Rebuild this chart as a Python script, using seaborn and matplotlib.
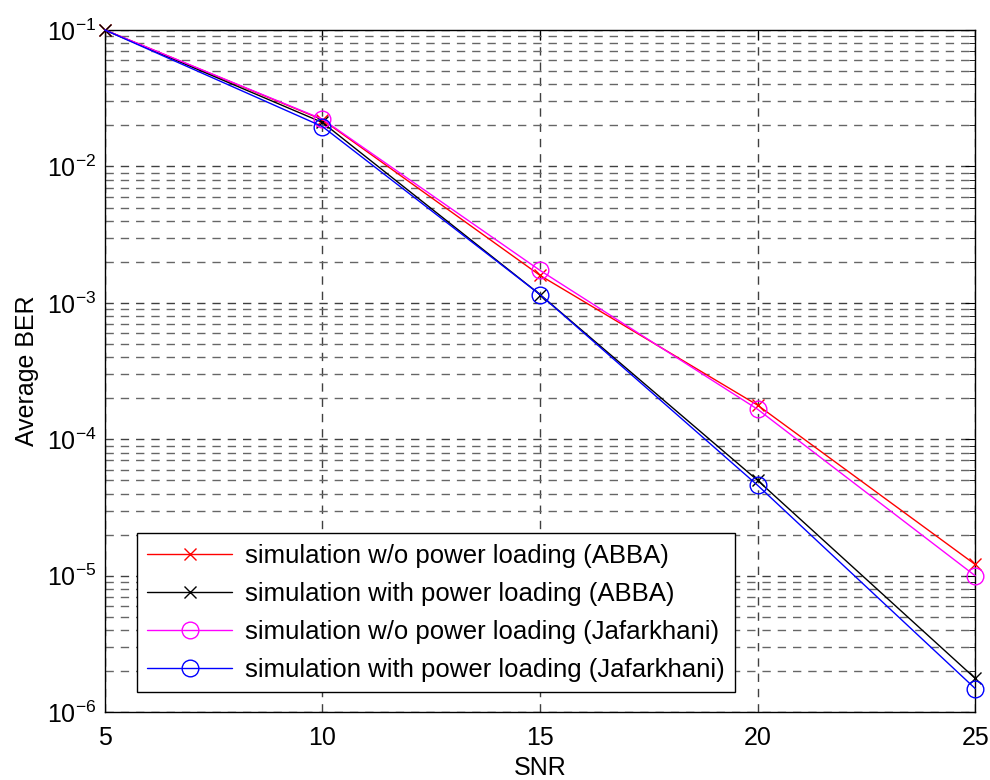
import matplotlib
matplotlib.use("Agg")
import matplotlib.pyplot as plt
import matplotlib.ticker as mticker
import pandas as pd
import seaborn as sns

sns.set_style("white")
plt.rcParams["font.family"] = ["Liberation Sans", "DejaVu Sans"]
plt.rcParams["text.color"] = "black"
plt.rcParams["axes.labelcolor"] = "black"

# SNR points and BER values.
snr = [5, 10, 15, 20, 25]
ber_abba_no_pl = [0.1, 0.0220, 1.59e-3, 1.78e-4, 1.21e-5]
ber_abba_pl = [0.1, 0.0210, 1.15e-3, 5.0e-5, 1.77e-6]
ber_jaf_no_pl = [0.1, 0.0222, 1.73e-3, 1.66e-4, 1.0e-5]
ber_jaf_pl = [0.1, 0.0196, 1.15e-3, 4.6e-5, 1.49e-6]

labels = [
    "simulation w/o power loading (ABBA)",
    "simulation with power loading (ABBA)",
    "simulation w/o power loading (Jafarkhani)",
    "simulation with power loading (Jafarkhani)",
]

# Style for each curve: colour, marker, marker size, which points get markers.
STYLES = [
    ("#ff0000", "x", 8, None),
    ("#000000", "x", 8, None),
    ("#ff00ff", "o", 12, [1, 2, 3, 4]),
    ("#0000ff", "o", 12, [1, 2, 3, 4]),
]

rows = []
for lab, vals in zip(labels, [ber_abba_no_pl, ber_abba_pl, ber_jaf_no_pl, ber_jaf_pl]):
    for s, b in zip(snr, vals):
        rows.append({"SNR": s, "BER": b, "curve": lab})
df = pd.DataFrame(rows)

fig, ax = plt.subplots(figsize=(9.9, 7.8), dpi=100)
fig.subplots_adjust(left=0.106, right=0.985, top=0.9615, bottom=0.087)

for lab, (col, mk, ms, every) in zip(labels, STYLES):
    sub = df[df["curve"] == lab]
    sns.lineplot(data=sub, x="SNR", y="BER", ax=ax, color=col, marker=mk,
                 markersize=ms, markevery=every, linewidth=1,
                 markerfacecolor="none", markeredgecolor=col,
                 markeredgewidth=1, label=lab, clip_on=False, zorder=3)

ax.set_yscale("log")
ax.set_xlim(5, 25)
ax.set_ylim(1e-6, 1e-1)
ax.set_xticks(snr)
ax.yaxis.set_major_locator(mticker.LogLocator(base=10, numticks=10))
ax.yaxis.set_minor_locator(mticker.LogLocator(base=10, subs=range(2, 10), numticks=10))

ax.grid(True, which="major", axis="both", color="0.25", linestyle=(0, (6, 5)), linewidth=1.0)
ax.grid(True, which="minor", axis="y", color="0.4", linestyle=(0, (6, 5)), linewidth=1.0)

ax.tick_params(axis="both", which="both", direction="in", top=True, right=True,
               labelsize=18, colors="black")
ax.tick_params(axis="x", which="major", pad=10)
ax.tick_params(axis="y", which="major", pad=6)
ax.tick_params(which="major", length=7)
ax.tick_params(which="minor", length=4)
for sp in ax.spines.values():
    sp.set_color("black")
    sp.set_linewidth(1)

ax.set_xlabel("SNR", fontsize=18, labelpad=4)
ax.set_ylabel("Average BER", fontsize=18, labelpad=6)

leg = ax.legend(loc="lower left", bbox_to_anchor=(0.037, 0.029), borderaxespad=0,
                fontsize=18.5, frameon=True, fancybox=False, handlelength=3.3,
                labelspacing=0.55, borderpad=0.4, handletextpad=0.5)
leg.get_frame().set_edgecolor("black")
leg.get_frame().set_linewidth(1)
leg.get_frame().set_alpha(1)
for t in leg.get_texts():
    t.set_color("black")

fig.savefig("out.png", dpi=100)
